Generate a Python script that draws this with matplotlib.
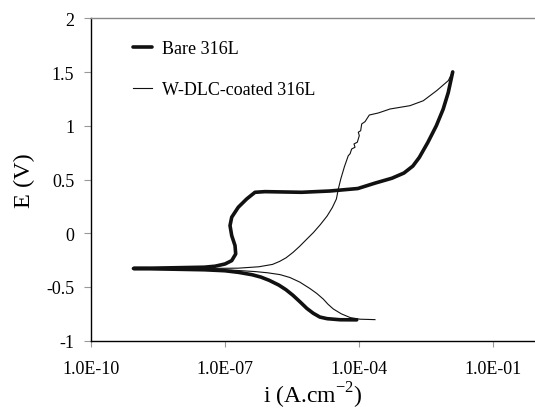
import numpy as np
import matplotlib
matplotlib.use("Agg")
import matplotlib.pyplot as plt

plt.rcParams['font.family'] = ['Liberation Serif', 'DejaVu Serif']
plt.rcParams['mathtext.fontset'] = 'custom'
plt.rcParams['mathtext.rm'] = 'Liberation Serif'

# log10 of current density (A/cm^2) and potential (V)
bare_logi = [-4.056, -4.430, -4.718, -4.880, -5.027, -5.170, -5.320, -5.481, -5.640,
             -5.800, -6.015, -6.200, -6.397, -6.702, -7.008, -7.466, -8.229, -9.050,
             -8.229, -7.466, -7.226, -7.002, -6.852, -6.763, -6.778, -6.852, -6.890,
             -6.852, -6.705, -6.517, -6.331, -6.107, -5.286, -4.653, -4.031, -3.649,
             -3.267, -3.000, -2.800, -2.656, -2.466, -2.275, -2.122, -2.008, -1.908]
bare_E = [-0.806, -0.805, -0.795, -0.780, -0.745, -0.700, -0.640, -0.578, -0.525,
          -0.482, -0.438, -0.408, -0.386, -0.364, -0.349, -0.340, -0.334, -0.328,
          -0.322, -0.316, -0.307, -0.286, -0.255, -0.193, -0.115, -0.022, 0.071,
          0.149, 0.242, 0.319, 0.381, 0.387, 0.381, 0.393, 0.416, 0.466,
          0.512, 0.560, 0.625, 0.705, 0.844, 1.000, 1.154, 1.309, 1.501]

dlc_logi = [-3.647, -3.982, -4.200, -4.400, -4.579, -4.700, -4.803, -4.950, -5.101,
            -5.328, -5.550, -5.772, -6.050, -6.321, -6.855, -7.466, -8.300,
            -7.466, -6.702, -6.244, -5.939, -5.780, -5.634, -5.480, -5.328, -5.180,
            -5.023, -4.870, -4.718, -4.600, -4.510, -4.467, -4.412, -4.330,
            -4.244, -4.206, -4.168, -4.094, -4.116, -4.042, -3.998, -4.020,
            -3.967, -3.944, -3.870, -3.774, -3.573, -3.423, -3.311, -2.864, -2.566,
            -2.266, -2.007, -1.908]
dlc_E = [-0.804, -0.800, -0.785, -0.750, -0.705, -0.660, -0.613, -0.560, -0.515,
         -0.455, -0.412, -0.385, -0.368, -0.357, -0.343, -0.337, -0.333,
         -0.328, -0.325, -0.312, -0.290, -0.262, -0.228, -0.178, -0.120, -0.058,
         0.007, 0.080, 0.160, 0.240, 0.319, 0.412, 0.505, 0.620,
         0.722, 0.738, 0.784, 0.800, 0.831, 0.847, 0.908, 0.940,
         0.954, 1.017, 1.038, 1.100, 1.119, 1.140, 1.156, 1.187, 1.233,
         1.327, 1.420, 1.503]

xtick_vals = [1e-10, 1e-7, 1e-4, 1e-1]
xtick_labels = ['1.0E-10', '1.0E-07', '1.0E-04', '1.0E-01']
ytick_vals = [-1, -0.5, 0, 0.5, 1, 1.5, 2]
ytick_labels = ['-1', '-0.5', '0', '0.5', '1', '1.5', '2']

fig = plt.figure(figsize=(5.35, 4.10), dpi=100)
ax = fig.add_axes([91/535, (410-341.7)/410, (535-91)/535, (341.7-19.3)/410])

ax.plot(10**np.array(bare_logi), bare_E, color='#111111', lw=2.6,
        solid_joinstyle='round', solid_capstyle='round', label='Bare 316L')
ax.plot(10**np.array(dlc_logi), dlc_E, color='#111111', lw=0.8,
        label='W-DLC-coated 316L')

ax.set_xscale('log')
ax.set_xlim(1e-10, 10**(-10 + 444/44.7))
ax.set_ylim(-1, 2)
ax.set_xticks(xtick_vals)
ax.set_xticklabels(xtick_labels)
ax.minorticks_off()
ax.set_yticks(ytick_vals)
ax.set_yticklabels(ytick_labels)

ax.tick_params(axis='both', direction='out', color='#999999', labelsize=13, width=0.8)
ax.tick_params(axis='y', length=5, pad=7)
ax.tick_params(axis='x', length=4, pad=10)

for s in ['left', 'bottom']:
    ax.spines[s].set_color('black')
    ax.spines[s].set_linewidth(1.0)
ax.spines['top'].set_color('#888888')
ax.spines['top'].set_linewidth(1.0)
ax.spines['right'].set_visible(False)

ax.set_ylabel('E (V)', fontsize=17.5, labelpad=8)
ax.set_xlabel(r'i (A.cm$^{\mathregular{-2}}$)', fontsize=17, labelpad=2)

leg = ax.legend(loc='upper left', bbox_to_anchor=(133/535, 1 - 41/410),
                bbox_transform=fig.transFigure, frameon=False, fontsize=13,
                handlelength=1.05, handletextpad=0.55, labelspacing=1.34,
                borderpad=0, borderaxespad=0)

fig.savefig('out.png', dpi=100)
